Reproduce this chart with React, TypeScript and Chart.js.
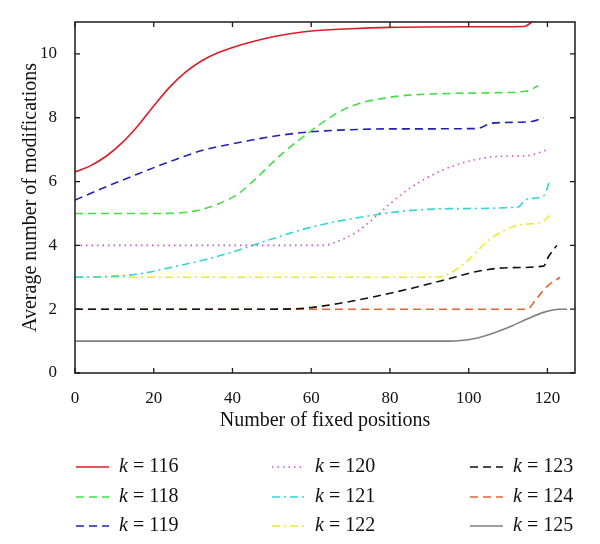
import React, { useEffect, useRef } from 'react';
import { Chart, registerables } from 'chart.js';

Chart.register(...registerables);

// ---- data ----
const kLabels = ['116', '118', '119', '120', '121', '122', '123', '124', '125'];

const x116 = [0, 4, 8, 12, 16, 20, 24, 28, 32, 36, 40, 45, 50, 55, 60, 70, 80, 100, 114, 116, 117.5];
const y116 = [6.3, 6.5, 6.8, 7.22, 7.75, 8.37, 8.95, 9.42, 9.77, 10.02, 10.2, 10.38, 10.53, 10.64, 10.72, 10.79, 10.83, 10.85, 10.86, 11.0, 11.2];

const x118 = [0, 20, 27, 32, 37, 41, 45, 50, 55, 59, 63, 67, 72, 76, 84, 95, 105, 114.5, 117.7];
const y118 = [5.0, 5.0, 5.02, 5.12, 5.33, 5.58, 5.98, 6.58, 7.12, 7.5, 7.86, 8.18, 8.44, 8.56, 8.7, 8.76, 8.78, 8.83, 9.0];

const x119 = [0, 7, 16, 24, 33, 42, 50, 59, 67, 80, 102, 106, 116, 119];
const y119 = [5.42, 5.79, 6.24, 6.62, 7.0, 7.23, 7.41, 7.55, 7.61, 7.65, 7.66, 7.83, 7.88, 8.0];

const x120 = [0, 63, 67, 71.5, 76, 80, 84, 88, 92, 97, 103, 108, 115, 120];
const y120 = [4.0, 4.0, 4.14, 4.42, 4.86, 5.3, 5.7, 6.02, 6.28, 6.53, 6.72, 6.79, 6.81, 7.0];

const x121 = [0, 7, 16, 24, 33, 41, 50, 59, 67, 76, 84, 95, 112.5, 114.8, 119, 120.5];
const y121 = [3.0, 3.02, 3.1, 3.3, 3.55, 3.83, 4.2, 4.54, 4.76, 4.95, 5.08, 5.15, 5.2, 5.45, 5.55, 6.0];

const x122 = [0, 92, 96, 100, 104.5, 109, 113, 119, 121];
const y122 = [3.0, 3.0, 3.18, 3.55, 4.1, 4.47, 4.64, 4.76, 5.0];

const x123 = [0, 50, 59, 67, 76, 85, 94, 102, 110, 119, 120.3, 122.4];
const y123 = [2.0, 2.0, 2.04, 2.18, 2.39, 2.64, 2.92, 3.18, 3.3, 3.35, 3.65, 4.0];

const x124 = [0, 114.8, 117.3, 119.8, 123.2];
const y124 = [2.0, 2.0, 2.34, 2.7, 3.0];

const x125 = [0, 95, 98, 102, 106, 110.5, 114.8, 119, 123, 125];
const y125 = [1.0, 1.0, 1.02, 1.09, 1.24, 1.45, 1.69, 1.9, 2.0, 2.0];

const xTicks = [0, 20, 40, 60, 80, 100, 120];
const yTicks = [0, 2, 4, 6, 8, 10];

const seriesX = [x116, x118, x119, x120, x121, x122, x123, x124, x125];
const seriesY = [y116, y118, y119, y120, y121, y122, y123, y124, y125];

// ---- styles ----
const colors = ['#d81e26', '#44dd44', '#2222b0', '#d050d0', '#33d4d4', '#eaea2a', '#111111', '#e0682e', '#808080'];
const dashes: number[][] = [[], [8, 5], [8, 5], [1.5, 4], [8, 4, 2, 4], [8, 4, 2, 4], [8, 5], [8, 5], []];

const FONT = '"Liberation Serif", "Times New Roman", serif';

const frameTicksPlugin = {
  id: 'frameTicks',
  afterDraw(chart: any) {
    const { ctx, chartArea: a, scales } = chart;
    ctx.save();
    ctx.strokeStyle = '#1a1a1a';
    ctx.lineWidth = 1.5;
    ctx.setLineDash([]);
    ctx.strokeRect(a.left, a.top, a.right - a.left, a.bottom - a.top);
    const tl = 5;
    ctx.lineWidth = 1.3;
    ctx.beginPath();
    xTicks.forEach((v) => {
      const px = scales.x.getPixelForValue(v);
      ctx.moveTo(px, a.bottom);
      ctx.lineTo(px, a.bottom - tl);
      ctx.moveTo(px, a.top);
      ctx.lineTo(px, a.top + tl);
    });
    yTicks.forEach((v) => {
      const py = scales.y.getPixelForValue(v);
      ctx.moveTo(a.left, py);
      ctx.lineTo(a.left + tl, py);
      ctx.moveTo(a.right, py);
      ctx.lineTo(a.right - tl, py);
    });
    ctx.stroke();
    ctx.restore();
  },
};

const gridLegendPlugin = {
  id: 'gridLegend',
  afterDraw(chart: any) {
    const { ctx, chartArea: a } = chart;
    const colOffsets = [1, 197, 395];
    const rowOffsets = [94, 124, 153];
    const lineLen = 33;
    ctx.save();
    kLabels.forEach((k, i) => {
      const col = Math.floor(i / 3);
      const row = i % 3;
      const x0 = a.left + colOffsets[col];
      const y0 = a.bottom + rowOffsets[row];
      ctx.strokeStyle = colors[i];
      ctx.lineWidth = 1.6;
      ctx.setLineDash(dashes[i]);
      ctx.beginPath();
      ctx.moveTo(x0, y0);
      ctx.lineTo(x0 + lineLen, y0);
      ctx.stroke();
      ctx.setLineDash([]);
      ctx.fillStyle = '#111';
      ctx.textBaseline = 'middle';
      ctx.textAlign = 'left';
      const tx = x0 + 43;
      ctx.font = `italic 20px ${FONT}`;
      ctx.fillText('k', tx, y0);
      const w = ctx.measureText('k').width;
      ctx.font = `20px ${FONT}`;
      ctx.fillText(` = ${k}`, tx + w, y0);
    });
    ctx.restore();
  },
};

export default function App() {
  const canvasRef = useRef<HTMLCanvasElement | null>(null);

  useEffect(() => {
    if (!canvasRef.current) return;
    const datasets = kLabels.map((k, i) => ({
      label: `k = ${k}`,
      data: seriesX[i].map((x, j) => ({ x, y: seriesY[i][j] })),
      borderColor: colors[i],
      backgroundColor: colors[i],
      borderWidth: 1.6,
      borderDash: dashes[i],
      pointRadius: 0,
      fill: false,
      cubicInterpolationMode: 'monotone' as const,
      clip: 0,
    }));

    const chart = new Chart(canvasRef.current, {
      type: 'line',
      data: { datasets },
      options: {
        responsive: false,
        animation: false,
        layout: { padding: { left: 0, right: 25, top: 22, bottom: 101 } },
        plugins: {
          legend: { display: false },
          tooltip: { enabled: false },
        },
        scales: {
          x: {
            type: 'linear',
            min: 0,
            max: 127,
            afterBuildTicks: (s: any) => {
              s.ticks = xTicks.map((v) => ({ value: v }));
            },
            afterFit: (s: any) => {
              s.height = 70;
            },
            grid: { display: false },
            border: { display: false },
            ticks: {
              font: { family: FONT, size: 17 },
              color: '#111',
              padding: 7,
              maxRotation: 0,
            },
            title: {
              display: true,
              text: 'Number of fixed positions',
              font: { family: FONT, size: 20 },
              color: '#111',
              padding: { top: 0, bottom: 10 },
            },
          },
          y: {
            type: 'linear',
            min: 0,
            max: 11,
            afterBuildTicks: (s: any) => {
              s.ticks = yTicks.map((v) => ({ value: v }));
            },
            afterFit: (s: any) => {
              s.width = 75;
            },
            grid: { display: false },
            border: { display: false },
            ticks: {
              font: { family: FONT, size: 17 },
              color: '#111',
              padding: 10,
            },
            title: {
              display: true,
              text: 'Average number of modifications',
              font: { family: FONT, size: 20 },
              color: '#111',
              padding: { top: 19, bottom: 0 },
            },
          },
        },
      },
      plugins: [frameTicksPlugin, gridLegendPlugin],
    });
    return () => chart.destroy();
  }, []);

  return (
    <div style={{ position: 'fixed', left: 0, top: 0, width: 600, height: 544, background: '#fff' }}>
      <canvas ref={canvasRef} width={600} height={544} style={{ width: 600, height: 544 }} />
    </div>
  );
}
